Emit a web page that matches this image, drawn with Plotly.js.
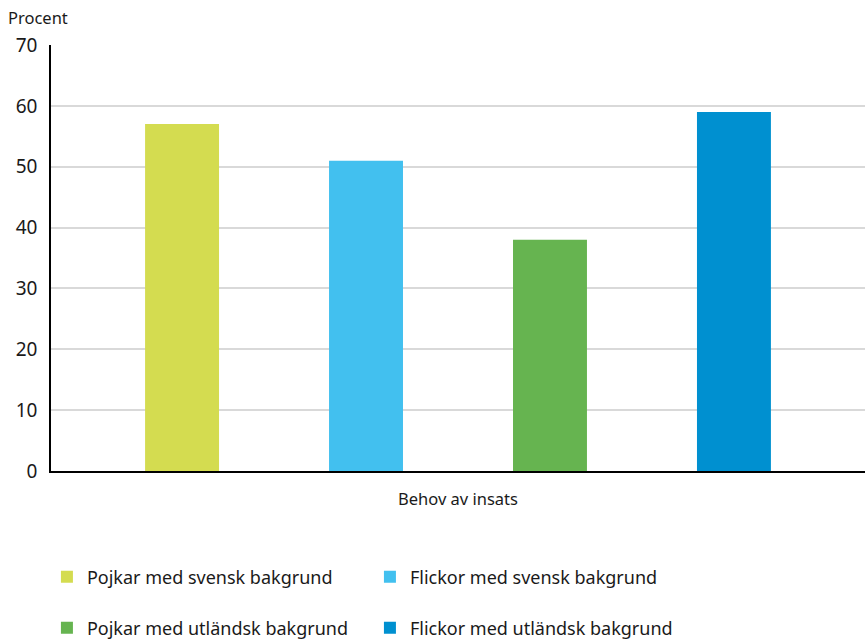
<!DOCTYPE html>
<html>
<head>
<meta charset="utf-8">
<script src="https://cdn.plot.ly/plotly-3.0.1.min.js"></script>
<style>html,body{margin:0;padding:0;background:#fff;}#chart{width:865px;height:640px;}</style>
</head>
<body>
<div id="chart"></div>
<script>
const categories = ["Behov av insats"];
const seriesNames = ["Pojkar med svensk bakgrund", "Flickor med svensk bakgrund", "Pojkar med utländsk bakgrund", "Flickor med utländsk bakgrund"];
const pojkarSvensk = [57];
const flickorSvensk = [51];
const pojkarUtlandsk = [38];
const flickorUtlandsk = [59];
const seriesColors = ["#d4dc50", "#42c0ef", "#66b450", "#0090d0"];
const seriesLegends = ["legend", "legend", "legend2", "legend2"];
const yTickValues = [0, 10, 20, 30, 40, 50, 60, 70];

const seriesValues = [pojkarSvensk, flickorSvensk, pojkarUtlandsk, flickorUtlandsk];
const FONT = "Noto Sans, sans-serif";

const data = seriesValues.map((vals, i) => ({
  type: "bar",
  x: categories,
  y: vals,
  name: seriesNames[i],
  marker: {color: seriesColors[i], line: {width: 0}},
  legend: seriesLegends[i],
  hoverinfo: "y+name"
}));

const legendCommon = {
  orientation: "h",
  xanchor: "left",
  yanchor: "middle",
  x: -0.005,
  font: {family: FONT, size: 18, color: "#1a1a1a"},
  entrywidth: 278,
  entrywidthmode: "pixels",
  traceorder: "normal",
  bgcolor: "rgba(0,0,0,0)"
};

const layout = {
  width: 865,
  height: 640,
  margin: {l: 51, r: 0, t: 45, b: 169, pad: 0, autoexpand: false},
  paper_bgcolor: "#ffffff",
  plot_bgcolor: "#ffffff",
  font: {family: FONT, color: "#1a1a1a"},
  title: {
    text: "Procent",
    xref: "container", yref: "container",
    x: 8 / 865, xanchor: "left",
    y: 1 - 18 / 640, yanchor: "middle",
    font: {family: FONT, size: 16.5, color: "#1a1a1a"}
  },
  barmode: "group",
  bargap: 0.096,
  bargroupgap: 0.598,
  xaxis: {
    type: "category",
    showline: true,
    linecolor: "#000000",
    linewidth: 1.5,
    showgrid: false,
    ticks: "outside",
    ticklen: 12,
    tickcolor: "rgba(0,0,0,0)",
    tickfont: {family: FONT, size: 16.5, color: "#1a1a1a"},
    fixedrange: true
  },
  yaxis: {
    range: [0, 70],
    tickvals: yTickValues,
    ticktext: yTickValues.map(String),
    showline: true,
    linecolor: "#000000",
    linewidth: 1.5,
    showgrid: true,
    gridcolor: "#d9d9d9",
    gridwidth: 1.5,
    zeroline: false,
    ticks: "outside",
    ticklen: 8,
    tickcolor: "rgba(0,0,0,0)",
    tickfont: {family: FONT, size: 19, color: "#1a1a1a"},
    fixedrange: true
  },
  legend: Object.assign({}, legendCommon, {y: (471 - 577) / 426}),
  legend2: Object.assign({}, legendCommon, {y: (471 - 628) / 426}),
  showlegend: true
};

Plotly.newPlot("chart", data, layout, {displayModeBar: false});
</script>
</body>
</html>
